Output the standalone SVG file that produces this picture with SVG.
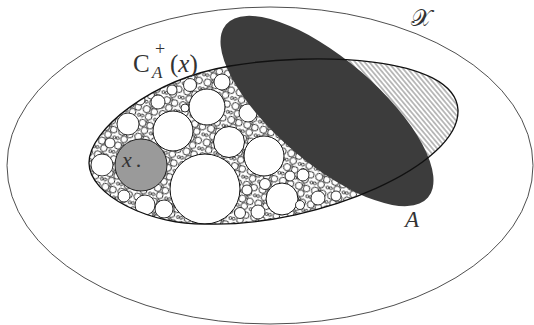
<svg xmlns="http://www.w3.org/2000/svg" width="534" height="325" viewBox="0 0 534 325">
<style>
.lbl{font-family:"Liberation Serif","DejaVu Serif",serif;fill:#333}
.it{font-style:italic}
.big{fill:#fff;stroke:#111;stroke-width:1}
.med{fill:#fff;stroke:#111;stroke-width:0.85}
</style>
<defs>
<pattern id="bubbles" width="16.8" height="14.4" patternUnits="userSpaceOnUse" patternTransform="rotate(17)">
<rect width="16.8" height="14.4" fill="#fff"/>
<g fill="#fff" stroke="#111" stroke-width="0.85">
<circle cx="4.2" cy="3.84" r="3.6"/>
<circle cx="12.24" cy="4.32" r="3.36"/>
<circle cx="8.16" cy="10.56" r="3.36"/>
<circle cx="15.24" cy="11.52" r="1.44"/>
<circle cx="1.8" cy="11.28" r="1.44"/>
<circle cx="8.4" cy="1.32" r="0.96"/>
</g>
</pattern>
<pattern id="hatch" width="10" height="3.6" patternUnits="userSpaceOnUse" patternTransform="rotate(50)">
<rect width="10" height="3.6" fill="#fff"/>
<line x1="0" y1="1.8" x2="10" y2="1.8" stroke="#666" stroke-width="0.9"/>
</pattern>
<path id="cshape" d="M89,163 C89,130 150,80 230,66 C310,52 455,55 458,110 C460,165 320,226 210,224 C150,226 89,195 89,163 Z"/>
<clipPath id="clipC"><use href="#cshape"/></clipPath>
<clipPath id="clipLeft"><polygon points="200,0 0,0 0,325 534,325 534,287"/></clipPath>
<clipPath id="clipRight"><polygon points="200,0 534,0 534,287"/></clipPath>
</defs>

<g id="space-X">
<ellipse cx="270" cy="165.5" rx="263" ry="158.5" fill="#fff" stroke="#222" stroke-width="0.8"/>
<text class="lbl" x="411" y="26" font-size="24" font-family="Liberation Serif, DejaVu Serif, serif">𝒳</text>
</g>

<g id="region-C">
<g clip-path="url(#clipC)">
<g clip-path="url(#clipLeft)">
<rect x="80" y="40" width="400" height="200" fill="url(#bubbles)"/>
<circle class="big" cx="205" cy="189" r="35"/>
<circle class="big" cx="173" cy="131" r="20"/>
<circle class="big" cx="207" cy="107" r="18"/>
<circle class="big" cx="229" cy="142" r="15.5"/>
<circle class="big" cx="264" cy="156" r="20"/>
<circle class="big" cx="282" cy="199" r="16"/>
<circle class="med" cx="102" cy="165" r="11"/>
<circle class="med" cx="128" cy="124" r="11"/>
<circle class="med" cx="145" cy="205" r="10"/>
<circle class="med" cx="164" cy="209" r="9"/>
<circle class="med" cx="190" cy="85" r="6.5"/>
<circle class="med" cx="158" cy="102" r="7"/>
<circle class="med" cx="248" cy="113" r="9"/>
<circle class="med" cx="258" cy="212" r="7"/>
<circle class="med" cx="303" cy="175" r="6"/>
<circle class="med" cx="318" cy="198" r="7"/>
<circle class="med" cx="336" cy="196" r="5"/>
<circle class="med" cx="222" cy="82" r="8"/>
<circle class="med" cx="247" cy="190" r="5"/>
<circle class="med" cx="290" cy="176" r="5"/>
<circle class="med" cx="110" cy="143" r="5"/>
<circle class="med" cx="185" cy="108" r="4"/>
<circle class="med" cx="124" cy="196" r="6"/>
<circle class="med" cx="265" cy="184" r="5.5"/>
<circle class="med" cx="240" cy="213" r="5.5"/>
<circle class="med" cx="140" cy="100" r="5"/>
<circle class="med" cx="172" cy="90" r="5"/>
<circle class="med" cx="300" cy="205" r="4.5"/>
</g>
<g clip-path="url(#clipRight)">
<rect x="200" y="40" width="280" height="200" fill="url(#hatch)"/>
</g>
</g>
</g>

<g id="set-A">
<ellipse cx="327" cy="111" rx="133" ry="52" transform="rotate(40.6 327 111)" fill="#3c3c3c"/>
<text class="lbl it" x="405" y="227" font-size="23" font-family="Liberation Serif, DejaVu Serif, serif">A</text>
</g>

<g id="region-C-outline">
<use href="#cshape" fill="none" stroke="#111" stroke-width="1.3"/>
<text class="lbl" x="133" y="72" font-size="25" font-family="Liberation Serif, DejaVu Serif, serif">C</text>
<text class="lbl" x="155" y="55" font-size="18" font-family="Liberation Serif, DejaVu Serif, serif">+</text>
<text class="lbl it" x="152" y="78" font-size="17" font-family="Liberation Serif, DejaVu Serif, serif">A</text>
<text class="lbl" x="170" y="72" font-size="25" font-family="Liberation Serif, DejaVu Serif, serif">(<tspan class="it">x</tspan>)</text>
</g>

<g id="point-x">
<circle cx="141" cy="165" r="26" fill="#9a9a9a" stroke="#222" stroke-width="1"/>
<text class="lbl it" x="122" y="167" font-size="22" fill="#222" font-family="Liberation Serif, DejaVu Serif, serif">x<tspan dx="4" font-style="normal">.</tspan></text>
</g>
</svg>
